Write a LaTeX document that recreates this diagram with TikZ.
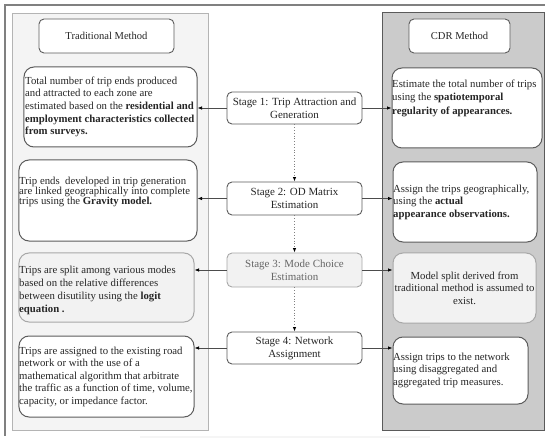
\documentclass[tikz,border=0pt]{standalone}
\usepackage{fontspec}
\setmainfont{Liberation Serif}
\usetikzlibrary{arrows.meta}
\definecolor{txt}{HTML}{262626}
\definecolor{lpanel}{HTML}{F4F4F4}
\definecolor{lpanelb}{HTML}{B4B4B4}
\definecolor{rpanel}{HTML}{CBCBCB}
\definecolor{rpanelb}{HTML}{5A5A5A}
\definecolor{boxb}{HTML}{5C5C5C}
\definecolor{softfill}{HTML}{F2F2F2}
\definecolor{softb}{HTML}{A8A8A8}
\begin{document}
\begin{tikzpicture}[x=1bp,y=-1bp,
  sidebox/.style={draw=boxb, line width=1bp, rounded corners=10bp, fill=white, inner sep=0pt},
  titlebox/.style={draw=boxb, line width=0.9bp, rounded corners=5bp, fill=white, inner sep=0pt, text=txt, font=\fontsize{10.6}{12}\selectfont},
  stagebox/.style={draw=boxb, line width=0.9bp, rounded corners=5bp, fill=white, inner sep=0pt, align=center, text=txt, minimum width=135bp, font=\fontsize{11}{13}\selectfont},
  sidetext/.style={anchor=north west, inner sep=0pt, align=left, text=txt},
  link/.style={draw=black!70, line width=0.7bp, -{Latex[length=4.5bp,width=3.5bp,black]}},
  flow/.style={draw=black!50, line width=0.8bp, dotted, -{Latex[length=4.5bp,width=3.5bp,black]}}
]
\useasboundingbox (0,0) rectangle (550,442);
% outer frame
\draw[black!50, line width=2bp] (4,5) -- (545,5);
\draw[black!50, line width=1.3bp] (5,5) -- (5,436);
\draw[black!4, line width=1.5bp] (140,437) -- (430,437);
% panels
\draw[fill=lpanel, draw=lpanelb, line width=0.8bp] (12,13) rectangle (208,430);
\draw[fill=rpanel, draw=rpanelb, line width=1bp] (382,13) rectangle (544,430);
% titles
\node[titlebox, minimum width=135bp, minimum height=34bp] (tm) at (106.5,36) {Traditional Method};
\node[titlebox, minimum width=101bp, minimum height=34bp] (cm) at (459.5,36) {CDR Method};
% left boxes
\node[sidebox, minimum width=173bp, minimum height=80bp] (l1) at (110.5,107) {};
\node[sidetext, font=\fontsize{10.8}{12.7}\selectfont] (l1t) at (25,76.5) {Total number of trip ends produced\\and attracted to each zone are\\estimated based on the \textbf{residential and}\\\textbf{employment characteristics collected}\\\textbf{from surveys.}};
\node[sidebox, minimum width=178bp, minimum height=81bp] (l2) at (108,200.5) {};
\node[sidetext, font=\fontsize{10.8}{10}\selectfont] (l2t) at (19,176.5) {Trip ends\ \ developed in trip generation\\are linked geographically into complete\\trips using the \textbf{Gravity model.}};
\node[sidebox, fill=softfill, draw=softb, minimum width=175bp, minimum height=69bp] (l3) at (106.5,287.5) {};
\node[sidetext, font=\fontsize{10.8}{13}\selectfont] (l3t) at (19,265.5) {Trips are split among various modes\\based on the relative differences\\between disutility using the \textbf{logit}\\\textbf{equation .}};
\node[sidebox, minimum width=175bp, minimum height=81bp] (l4) at (106.5,376.5) {};
\node[sidetext, font=\fontsize{10.8}{12.6}\selectfont] (l4t) at (19,346.5) {Trips are assigned to the existing road\\network or with the use of a\\mathematical algorithm that arbitrate\\the traffic as a function of time, volume,\\capacity, or impedance factor.};
% right boxes
\node[sidebox, minimum width=150bp, minimum height=80bp] (r1) at (467,108) {};
\node[sidetext, font=\fontsize{10.8}{13.5}\selectfont] (r1t) at (392,79.5) {Estimate the total number of trips\\using the \textbf{spatiotemporal}\\\textbf{regularity of appearances.}};
\node[sidebox, minimum width=144bp, minimum height=80bp] (r2) at (465,202) {};
\node[sidetext, font=\fontsize{10.8}{12.5}\selectfont] (r2t) at (393,184.5) {Assign the trips geographically,\\using the \textbf{actual}\\\textbf{appearance observations.}};
\node[sidebox, fill=softfill, draw=softb, minimum width=143bp, minimum height=70bp, align=center, text=txt, font=\fontsize{10.8}{12.5}\selectfont] (r3) at (464.5,288) {Model split derived from\\traditional method is assumed to\\exist.};
\node[sidebox, minimum width=135bp, minimum height=67bp] (r4) at (460.5,370.5) {};
\node[sidetext, font=\fontsize{10.8}{12.5}\selectfont] (r4t) at (393,352.5) {Assign trips to the network\\using disaggregated and\\aggregated trip measures.};
% stages
\node[stagebox, minimum height=32bp] (s1) at (294.5,108) {Stage 1: Trip Attraction and\\Generation};
\node[stagebox, minimum height=33bp] (s2) at (294.5,198.5) {Stage 2: OD Matrix\\Estimation};
\node[stagebox, minimum height=34bp, fill=softfill, draw=softb, text=black!60] (s3) at (294.5,270) {Stage 3: Mode Choice\\Estimation};
\node[stagebox, minimum height=32bp] (s4) at (294.5,348) {Stage 4: Network\\Assignment};
% flow
\draw[flow] (s1) -- (s2);
\draw[flow] (s2) -- (s3);
\draw[flow] (s3) -- (s4);
% links
\draw[link] (s1.west) -- (s1.west -| l1.east);
\draw[link] (s2.west) -- (s2.west -| l2.east);
\draw[link] (s3.west) -- (s3.west -| l3.east);
\draw[link] (s4.west) -- (s4.west -| l4.east);
\draw[link] (s1.east) -- (s1.east -| r1.west);
\draw[link] (s2.east) -- (s2.east -| r2.west);
\draw[link] (s3.east) -- (s3.east -| r3.west);
\draw[link] (s4.east) -- (s4.east -| r4.west);
\end{tikzpicture}
\end{document}
